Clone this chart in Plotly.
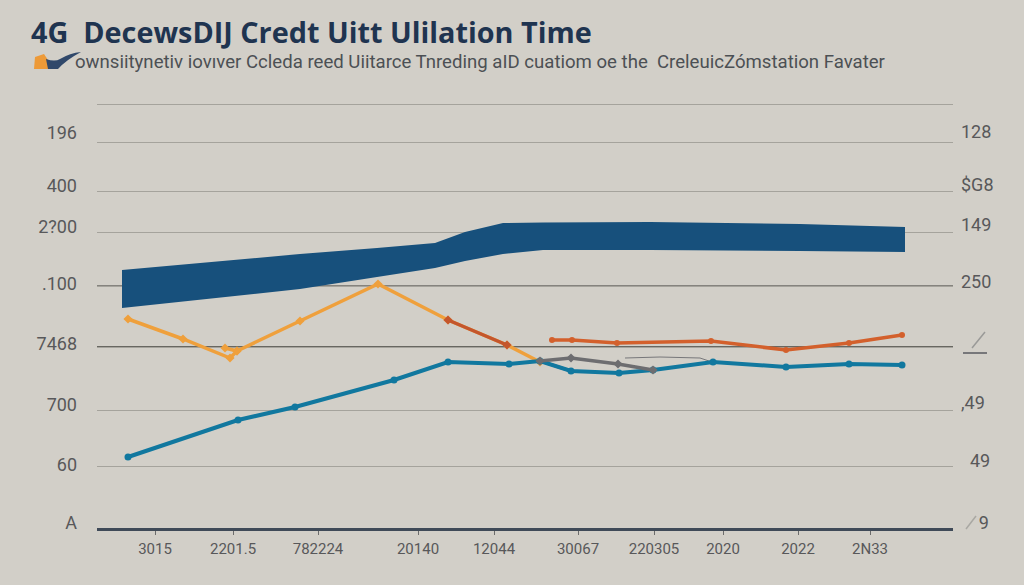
import plotly.graph_objects as go

BG = "#d2cfc8"

# gridline positions (axis units: height above the baseline)
grid_vals = [0, 62, 118, 181, 242, 296, 337, 386, 424]

# y labels sit a little off the gridlines in the reference
y_left_ticks = [5, 63, 123, 184, 244, 301, 342, 395]
y_left_labels = ["A", "60", "700", "7468", ".100", "2?00", "400", "196"]
y_right_ticks = [5, 67, 125, 246, 303, 343, 396]
y_right_labels = ["\u00a0\u00a0\u00a0\u00a09", "\u00a0\u00a049", ",49", "250", "149", "$G8", "128"]

# x ticks
x_ticks = [155, 233, 318, 418, 494, 578, 654, 723, 798, 870]
x_labels = ["3015", "2201.5", "782224", "20140", "12044", "30067", "220305", "2020", "2022", "2N33"]

# blue band
band_x = [122, 300, 377, 435, 465, 503, 543, 650, 800, 905]
band_top = [258, 274, 280, 285, 296, 305, 305.5, 306, 304, 301]
band_bottom = [220, 239, 251, 260, 267, 274, 278, 278, 277, 276]

# orange line
orange_x = [128, 183, 230, 237, 225, 237, 300, 378, 448, 507, 540]
orange_y = [209, 189, 170, 177, 180, 177, 207, 244, 208, 183, 166]

# red segment on the orange line
red_seg_x = [448, 507]
red_seg_y = [208, 183]

# red-orange line
rust_x = [552, 572, 617, 711, 786, 849, 902]
rust_y = [188, 188, 185, 187, 178, 185, 193]

# teal-blue line
blue_x = [128, 238, 295, 394, 448, 509, 540, 571, 619, 653, 713, 786, 849, 902]
blue_y = [71, 108, 121, 148, 166, 164, 167, 157, 155, 158, 166, 161, 164, 163]

# grey lines
grey_x = [540, 571, 618, 653]
grey_y = [167, 170, 164, 158]
grey_drop_x = [540, 571]
grey_drop_y = [167, 157]
thin_grey_x = [625, 660, 700, 712]
thin_grey_y = [170, 171, 170, 166]


def lin(x, y, color, width, marker=None, msize=8):
    return go.Scatter(
        x=x, y=y, mode="lines+markers" if marker else "lines",
        line=dict(color=color, width=width),
        marker=dict(symbol=marker or "circle", size=msize, color=color),
        showlegend=False, hoverinfo="skip",
    )


fig = go.Figure()
fig.add_trace(go.Scatter(x=band_x, y=band_top, mode="lines", line=dict(color="#17507c", width=0),
                         showlegend=False, hoverinfo="skip"))
fig.add_trace(go.Scatter(x=band_x, y=band_bottom, mode="lines", line=dict(color="#17507c", width=0),
                         fill="tonexty", fillcolor="#17507c", showlegend=False, hoverinfo="skip"))
fig.add_trace(lin(orange_x, orange_y, "#efa03c", 3.5, "diamond", 7))
fig.add_trace(lin(red_seg_x, red_seg_y, "#c4562c", 3.5, "diamond", 7))
fig.add_trace(lin(thin_grey_x, thin_grey_y, "#77777a", 1))
fig.add_trace(lin(grey_drop_x, grey_drop_y, "#6d6d70", 3))
fig.add_trace(lin(blue_x, blue_y, "#11789f", 4, "circle", 7))
fig.add_trace(lin(grey_x, grey_y, "#6d6d70", 3.5, "diamond", 7))
fig.add_trace(lin(rust_x, rust_y, "#d3602c", 3.5, "circle", 6))
fig.add_trace(go.Scatter(x=[None], y=[None], yaxis="y2", showlegend=False, hoverinfo="skip"))
fig.add_trace(go.Scatter(x=[None], y=[None], yaxis="y3", showlegend=False, hoverinfo="skip"))

tick_font = dict(family="Roboto, sans-serif", size=18, color="#58585a")


def px(v):
    return (v - 97) / 856


def py(v):
    return (528 - v) / 430


shapes = []
# darker gridlines
for val, col, w in [(242, "#6b6a66", 1.4), (181, "#45453f", 1.4)]:
    shapes.append(dict(type="line", xref="paper", yref="y", x0=0, x1=1, y0=val, y1=val,
                       line=dict(color=col, width=w), layer="below"))
# logo mark beside the subtitle
shapes.append(dict(type="path", xref="paper", yref="paper",
                   path=f"M {px(35)} {py(57)} L {px(44)} {py(54)} L {px(48)} {py(60)} L {px(48)} {py(69)} L {px(34)} {py(69)} Z",
                   fillcolor="#ed9a38", line=dict(width=0)))
shapes.append(dict(type="path", xref="paper", yref="paper",
                   path=f"M {px(46)} {py(59)} Q {px(55)} {py(62)} {px(60)} {py(59)} Q {px(70)} {py(53)} {px(81)} {py(52)} Q {px(66)} {py(60)} {px(58)} {py(69)} L {px(48)} {py(69)} Z",
                   fillcolor="#30486a", line=dict(width=0)))
# small glyph on the right of the 181 line
shapes.append(dict(type="line", xref="paper", yref="paper", x0=px(963), x1=px(987), y0=py(353), y1=py(353),
                   line=dict(color="#77777a", width=2)))
shapes.append(dict(type="line", xref="paper", yref="paper", x0=px(972), x1=px(985), y0=py(348), y1=py(332),
                   line=dict(color="#9a9a98", width=1.5)))
# small faint glyph at the right end of the baseline
shapes.append(dict(type="line", xref="paper", yref="paper", x0=px(966), x1=px(976), y0=py(529), y1=py(516),
                   line=dict(color="#a9a8a3", width=1.5)))

fig.update_layout(
    width=1024, height=585, autosize=False,
    paper_bgcolor=BG, plot_bgcolor=BG,
    margin=dict(l=97, r=71, t=98, b=57),
    showlegend=False,
    shapes=shapes,
    font=dict(family="Roboto, sans-serif"),
    title=dict(text="<b>4G  DecewsDIJ Credt Uitt Ulilation Time</b>", x=31 / 1024, xanchor="left",
               y=1 - 33 / 585, yanchor="middle",
               font=dict(family="Open Sans, sans-serif", size=28.8, color="#1f3450")),
    xaxis=dict(range=[97, 953], tickmode="array", tickvals=x_ticks, ticktext=x_labels,
               showgrid=False, zeroline=False, showline=True, linecolor="#3f4a58", linewidth=2.5,
               ticks="outside", ticklen=4, tickcolor="#6b6b6b", ticklabelstandoff=1,
               tickfont=dict(family="Roboto, sans-serif", size=15, color="#58585a")),
    yaxis=dict(range=[0, 430], tickmode="array", tickvals=y_left_ticks, ticktext=y_left_labels,
               showgrid=False, zeroline=False, showline=False,
               ticks="", ticklabelstandoff=19, tickfont=tick_font),
    yaxis2=dict(range=[0, 430], overlaying="y", side="right", tickmode="array", tickvals=y_right_ticks,
                ticktext=y_right_labels, showgrid=False, zeroline=False, showline=False, ticks="",
                ticklabelstandoff=7, tickfont=tick_font),
    yaxis3=dict(range=[0, 430], overlaying="y", side="left", tickmode="array", tickvals=grid_vals,
                showticklabels=False, showgrid=True, gridcolor="#a5a39c", gridwidth=1.2,
                zeroline=False, showline=False, ticks=""),
    annotations=[dict(text="ownsiitynetiv iovıver Ccleda reed Uiitarce Tnreding aID cuatiom oe the  CreleuicZómstation Favater",
                      xref="paper", yref="paper", x=px(73), y=py(62), xanchor="left", yanchor="middle",
                      showarrow=False, font=dict(family="Roboto, sans-serif", size=18.6, color="#4c5054"))],
)

fig.write_html("out.html", config=dict(displayModeBar=False),
               post_script="document.body.style.margin='0';document.body.style.background='" + BG + "';")
